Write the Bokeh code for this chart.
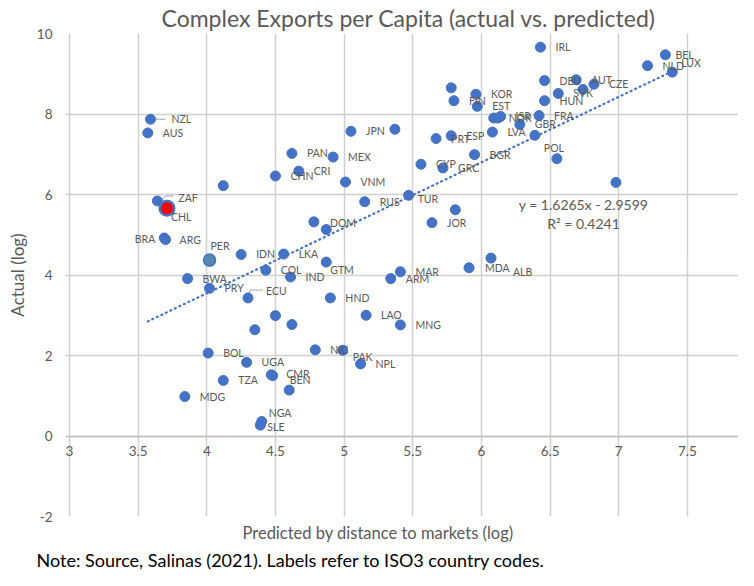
from bokeh.plotting import figure
from bokeh.models import ColumnDataSource, Label, FixedTicker, Title
from bokeh.core.properties import value
from bokeh.embed import file_html
from bokeh.resources import INLINE

# ---------------- data ----------------
countries = ["NZL", "AUS", "", "CHN", "PAN", "CRI", "MEX", "JPN", "", "VNM",
             "", "FIN", "KOR", "EST", "PRT", "ESP", "CYP", "GRC", "BGR", "LVA",
             "NOR", "", "ISR", "IRL", "BEL", "NLD", "LUX", "DEU", "AUT", "CZE",
             "SVK", "", "HUN", "FRA", "GBR", "", "POL", "", "ZAF", "CHL",
             "BRA", "ARG", "PER", "IDN", "LKA", "COL", "IND", "BWA", "PRY", "ECU",
             "", "", "", "RUS", "TUR", "", "JOR", "DOM", "", "GTM",
             "MAR", "ARM", "HND", "LAO", "MNG", "MDA", "ALB", "BOL", "UGA", "CMR",
             "BEN", "", "TZA", "MDG", "NGA", "SLE", "NIC", "PAK", "NPL"]
predicted = [3.59, 3.57, 4.12, 4.50, 4.62, 4.67, 4.92, 5.05, 5.37, 5.01,
             5.78, 5.80, 5.96, 5.97, 5.67, 5.78, 5.56, 5.72, 5.95, 6.08,
             6.09, 6.12, 6.14, 6.43, 7.34, 7.21, 7.39, 6.46, 6.69, 6.82,
             6.56, 6.74, 6.46, 6.42, 6.28, 6.39, 6.55, 6.98, 3.64, 3.71,
             3.69, 3.70, 4.02, 4.25, 4.56, 4.43, 4.61, 3.86, 4.02, 4.30,
             4.50, 4.35, 4.62, 5.15, 5.47, 5.81, 5.64, 4.78, 4.87, 4.87,
             5.41, 5.34, 4.90, 5.16, 5.41, 5.91, 6.07, 4.01, 4.29, 4.47,
             4.48, 4.60, 4.12, 3.84, 4.40, 4.39, 4.79, 4.99, 5.12]
actual = [7.87, 7.53, 6.22, 6.46, 7.02, 6.58, 6.93, 7.57, 7.62, 6.31,
          8.65, 8.33, 8.49, 8.19, 7.39, 7.46, 6.75, 6.66, 6.99, 7.55,
          7.90, 7.90, 7.94, 9.66, 9.47, 9.20, 9.04, 8.83, 8.85, 8.74,
          8.51, 8.61, 8.33, 7.96, 7.74, 7.47, 6.89, 6.30, 5.84, 5.66,
          4.92, 4.88, 4.37, 4.51, 4.52, 4.12, 3.95, 3.91, 3.67, 3.43,
          2.99, 2.64, 2.77, 5.82, 5.98, 5.62, 5.30, 5.32, 5.13, 4.32,
          4.08, 3.91, 3.43, 3.00, 2.76, 4.18, 4.42, 2.06, 1.83, 1.52,
          1.50, 1.14, 1.38, 0.98, 0.36, 0.27, 2.14, 2.13, 1.79]

highlight_red = "CHL"
highlight_grey = "PER"
trend_slope = 1.6265
trend_intercept = -2.9599
trend_r2 = 0.4241

x_ticks = [3, 3.5, 4, 4.5, 5, 5.5, 6, 6.5, 7, 7.5]
x_tick_labels = ["3", "3.5", "4", "4.5", "5", "5.5", "6", "6.5", "7", "7.5"]
y_ticks = [-2, 0, 2, 4, 6, 8, 10]
y_tick_labels = ["-2", "0", "2", "4", "6", "8", "10"]

title_text = "Complex Exports per Capita (actual vs. predicted)"
x_title = "Predicted by distance to markets (log)"
y_title = "Actual (log)"
note_text = "Note: Source, Salinas (2021). Labels refer to ISO3 country codes."

# ---------------- styling ----------------
FONT = "Lato"
GREY = "#595959"
BLUE = "#4472C4"
W, H = 738, 570
PAD = 4                       # room left of the x=3 gridline so the "3" label is whole
BL, BR, BT, BB = 69 - PAD, 0, 31, 48
FW, FH = W - BL - BR, H - BT - BB
Y0, Y1 = -2, 10
PX_X = 137.3
PX_Y = FH / (Y1 - Y0)
X0 = 3 - PAD / PX_X
X1 = X0 + FW / PX_X

# label offsets in pixels (dx, dy down), alignment
default_off = (15, 0, "left")
label_off = {
    "NZL": (21, 0, "left"), "ZAF": (21, -3, "left"), "CHL": (4, 9, "left"),
    "BRA": (-9, 1, "right"), "ARG": (14, 0, "left"), "PER": (1, -14, "left"),
    "GTM": (4, 8, "left"), "TUR": (9, 4, "left"), "POL": (-3, -11, "center"),
    "LUX": (9, -9, "left"), "BEL": (10, 0, "left"), "ALB": (22, 14, "left"),
    "NGA": (7, -9, "left"), "SLE": (7, 2, "left"), "PAK": (10, 7, "left"),
    "CMR": (15, -1, "left"), "BEN": (17, 4, "left"), "ECU": (18, -7, "left"),
    "DOM": (16, 1, "left"), "MDA": (16, 0, "left"),
}
leaders = {
    "NZL": [(1, 0), (15, 0)],
    "ZAF": [(3, 1), (8, -5), (16, -5)],
    "ECU": [(1, -4), (2, -8), (15, -8)],
}

p = figure(width=W, height=H, output_backend="svg", toolbar_location=None,
           x_range=(X0, X1), y_range=(Y0, Y1),
           min_border_left=BL, min_border_right=BR, min_border_top=BT,
           min_border_bottom=BB)
p.outline_line_color = None
p.background_fill_color = "white"

p.title.text = title_text
p.title.align = "left"
p.title.offset = 92 + PAD
p.title.text_font = FONT
p.title.text_font_size = "23px"
p.title.text_font_style = "normal"
p.title.text_color = GREY
p.title.standoff = 3

# grid
p.xgrid.ticker = FixedTicker(ticks=x_ticks)
p.ygrid.ticker = FixedTicker(ticks=y_ticks)
for g in (p.xgrid, p.ygrid):
    g.grid_line_color = "#d0d0d0"
    g.grid_line_width = 1.5

# x axis crossing at 0
xa = p.xaxis[0]
xa.fixed_location = 0
xa.ticker = FixedTicker(ticks=x_ticks)
xa.major_label_overrides = {t: l for t, l in zip(x_ticks, x_tick_labels)}
xa.axis_line_color = "#bfbfbf"
xa.axis_line_width = 1.5
xa.major_tick_line_color = None
xa.minor_tick_line_color = None
xa.major_label_text_font = FONT
xa.major_label_text_font_size = "13.5px"
xa.major_label_text_color = GREY
xa.major_label_standoff = 4

ya = p.yaxis[0]
ya.ticker = FixedTicker(ticks=y_ticks)
ya.major_label_overrides = {t: l for t, l in zip(y_ticks, y_tick_labels)}
ya.axis_line_color = None
ya.major_tick_line_color = None
ya.minor_tick_line_color = None
ya.major_label_text_font = FONT
ya.major_label_text_font_size = "13.5px"
ya.major_label_text_color = GREY
ya.major_label_standoff = 11 - PAD
ya.axis_label = y_title
ya.axis_label_text_font = FONT
ya.axis_label_text_font_size = "17px"
ya.axis_label_text_font_style = "normal"
ya.axis_label_text_color = GREY
ya.axis_label_standoff = 6

# x-axis title and note below the plot area
p.add_layout(Title(text=x_title, align="left", offset=173 + PAD, standoff=8,
                   text_font=FONT, text_font_size="16.5px", text_font_style="normal",
                   text_color=GREY), "below")
p.add_layout(Title(text=note_text, align="left", offset=-33 + PAD, standoff=0,
                   text_font=FONT, text_font_size="18px", text_font_style="normal",
                   text_color="black"), "below")

# trend line across the data range
tx0, tx1 = min(predicted), max(predicted)
p.line([tx0, tx1], [trend_slope * tx0 + trend_intercept, trend_slope * tx1 + trend_intercept],
       line_color=BLUE, line_width=2.2, line_dash="1 4", line_cap="round")

# leader lines
lx, ly = [], []
for c, pts in leaders.items():
    i = countries.index(c)
    lx.append([predicted[i] + dx / PX_X for dx, dy in pts])
    ly.append([actual[i] - dy / PX_Y for dx, dy in pts])
p.multi_line(lx, ly, line_color="#a6a6a6", line_width=1)

# points
src = ColumnDataSource(dict(
    x=predicted, y=actual, label=countries,
    dx=[label_off.get(c, default_off)[0] for c in countries],
    dy=[label_off.get(c, default_off)[1] for c in countries],
    align=[label_off.get(c, default_off)[2] for c in countries],
))
p.scatter("x", "y", source=src, size=10, fill_color=BLUE, line_color=BLUE)

gi = countries.index(highlight_grey)
p.scatter([predicted[gi]], [actual[gi]], size=12, fill_color="#5687AE",
          line_color=BLUE, line_width=1.5)
ri = countries.index(highlight_red)
p.scatter([predicted[ri]], [actual[ri]], size=14.5, fill_color="#FF0000",
          line_color=BLUE, line_width=2.5)

p.text("x", "y", text="label", source=src, x_offset="dx", y_offset="dy",
       text_align="align", text_baseline="middle", text_font=value(FONT),
       text_font_size="10.5px", text_color=GREY)

# equation (placed relative to the top of the plot area)
eq1 = f"y = {trend_slope}x - {abs(trend_intercept)}"
eq2 = f"R\u00b2 = {trend_r2}"
for txt, dy_top in ((eq1, 174), (eq2, 193)):
    p.add_layout(Label(x=514 + PAD, y=Y1 - dy_top / PX_Y, x_units="screen", y_units="data",
                       text=txt, text_align="center", text_baseline="middle",
                       text_font=FONT, text_font_size="14px", text_color=GREY))

open("out.html", "w").write(file_html(p, INLINE))
